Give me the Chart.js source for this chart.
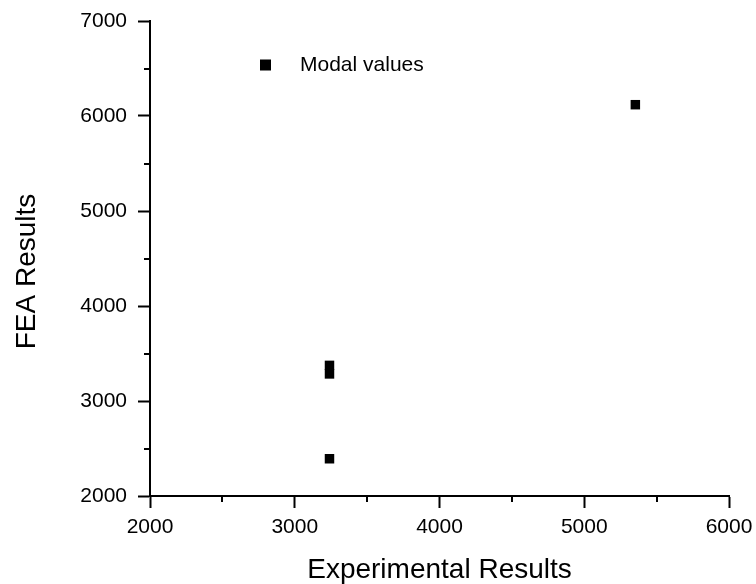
<!DOCTYPE html>
<html>
<head>
<meta charset="utf-8">
<script src="https://cdn.jsdelivr.net/npm/chart.js@4"></script>
<style>
  html, body { margin: 0; padding: 0; background: #fff; }
  #wrap { width: 756px; height: 584px; position: relative; }
</style>
</head>
<body>
<div id="wrap"><canvas id="c" width="756" height="584"></canvas></div>
<script>
// ---- data ----
const seriesLabel = 'Modal values';
const experimental = [3240, 3240, 3240, 5353];
const fea = [2392, 3285, 3375, 6119];
const xTitle = 'Experimental Results';
const yTitle = 'FEA Results';
const xMin = 2000, xMax = 6000, xStep = 1000;
const yMin = 2000, yMax = 7000, yStep = 1000;
const xMinorTicks = [2500, 3500, 4500, 5500];
const yMinorTicks = [2500, 3500, 4500, 5500, 6500];

const points = experimental.map((x, i) => ({ x: x, y: fea[i] }));
const FONT = "'Liberation Sans', Arial, sans-serif";

const extrasPlugin = {
  id: 'extras',
  afterDraw(chart) {
    const ctx = chart.ctx;
    const xs = chart.scales.x, ys = chart.scales.y;
    const ca = chart.chartArea;
    ctx.save();
    ctx.strokeStyle = '#000';
    ctx.lineWidth = 2;
    // minor ticks
    xMinorTicks.forEach(v => {
      const px = Math.round(xs.getPixelForValue(v));
      ctx.beginPath();
      ctx.moveTo(px, ca.bottom);
      ctx.lineTo(px, ca.bottom + 6);
      ctx.stroke();
    });
    yMinorTicks.forEach(v => {
      const py = Math.round(ys.getPixelForValue(v));
      ctx.beginPath();
      ctx.moveTo(ca.left - 6, py);
      ctx.lineTo(ca.left, py);
      ctx.stroke();
    });
    // y axis title
    ctx.fillStyle = '#000';
    ctx.font = '28px ' + FONT;
    ctx.textAlign = 'center';
    ctx.textBaseline = 'middle';
    ctx.translate(27, (ca.top + ca.bottom) / 2 + 13);
    ctx.rotate(-Math.PI / 2);
    ctx.fillText(yTitle, 0, 0);
    ctx.restore();
    // legend
    ctx.save();
    const ds = chart.data.datasets[0];
    ctx.fillStyle = '#000';
    ctx.fillRect(260, 59.5, 11, 11);
    ctx.font = '21px ' + FONT;
    ctx.textAlign = 'left';
    ctx.textBaseline = 'middle';
    ctx.fillText(ds.label, 300, 65.5);
    ctx.restore();
  }
};

new Chart(document.getElementById('c'), {
  type: 'scatter',
  data: {
    datasets: [{
      label: seriesLabel,
      data: points,
      pointStyle: 'rect',
      pointRadius: 6.7,
      pointHoverRadius: 6.7,
      backgroundColor: '#000',
      borderColor: '#000',
      borderWidth: 0
    }]
  },
  options: {
    responsive: false,
    animation: false,
    events: [],
    layout: { padding: { top: 21, right: 27, left: 0, bottom: 0 } },
    plugins: {
      legend: { display: false },
      tooltip: { enabled: false }
    },
    scales: {
      x: {
        type: 'linear',
        min: xMin, max: xMax,
        ticks: {
          stepSize: xStep,
          color: '#000',
          padding: 7,
          maxRotation: 0,
          font: { family: FONT, size: 21 },
          callback: v => String(v)
        },
        grid: { drawOnChartArea: false, tickLength: 12, tickWidth: 2, tickColor: '#000' },
        border: { display: true, color: '#000', width: 2 },
        title: {
          display: true, text: xTitle, color: '#000',
          font: { family: FONT, size: 28, lineHeight: 1 },
          padding: { top: 0, bottom: 0 }
        },
        afterFit(scale) { scale.height = 88; scale.paddingRight = 0; scale.paddingLeft = 0; }
      },
      y: {
        type: 'linear',
        min: yMin, max: yMax,
        ticks: {
          stepSize: yStep,
          color: '#000',
          padding: 11,
          font: { family: FONT, size: 21 },
          callback: v => String(v)
        },
        grid: { drawOnChartArea: false, tickLength: 12, tickWidth: 2, tickColor: '#000' },
        border: { display: true, color: '#000', width: 2 },
        afterFit(scale) { scale.width = 150; scale.paddingTop = 0; scale.paddingBottom = 0; }
      }
    }
  },
  plugins: [extrasPlugin]
});
</script>
</body>
</html>
